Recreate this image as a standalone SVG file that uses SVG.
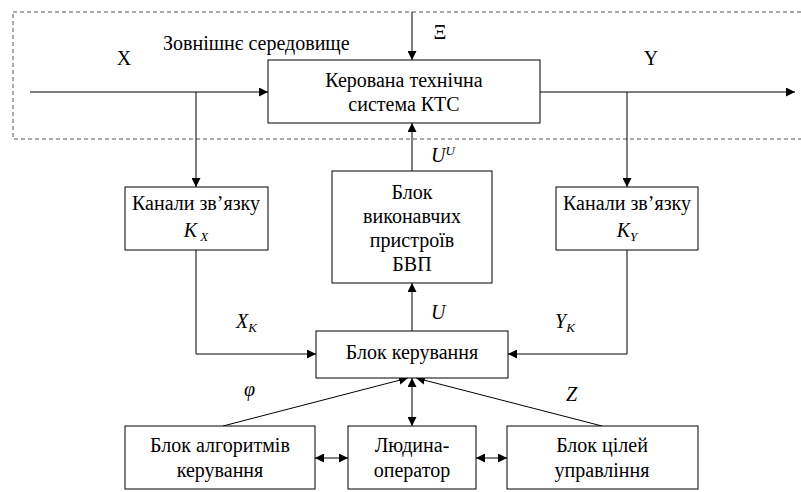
<svg xmlns="http://www.w3.org/2000/svg" width="801" height="492" viewBox="0 0 801 492">
<style>
text{font-family:"Liberation Serif","Times New Roman",serif;font-size:20px;fill:#000}
.c{text-anchor:middle}
.i{font-style:italic}
.s{font-size:13px}
.box{fill:#fff;stroke:#000;stroke-width:1}
.ln{fill:none;stroke:#000;stroke-width:1}
</style>
<defs>
<marker id="a" viewBox="0 0 10 10" refX="10" refY="5" markerWidth="9" markerHeight="9" markerUnits="userSpaceOnUse" orient="auto-start-reverse"><path d="M0,0 L10,5 L0,10 Z" fill="#000"/></marker>
</defs>
<rect x="13" y="12" width="800" height="127" fill="none" stroke="#555" stroke-dasharray="4,3"/>
<text x="163" y="50">Зовнішнє середовище</text>
<g id="connectors">
<line class="ln" x1="30" y1="92" x2="268" y2="92" marker-end="url(#a)"/>
<line class="ln" x1="196" y1="92" x2="196" y2="187" marker-end="url(#a)"/>
<line class="ln" x1="412" y1="12" x2="412" y2="60" marker-end="url(#a)"/>
<line class="ln" x1="540" y1="92" x2="795" y2="92" marker-end="url(#a)"/>
<line class="ln" x1="627" y1="92" x2="627" y2="187" marker-end="url(#a)"/>
<line class="ln" x1="412" y1="171" x2="412" y2="123" marker-end="url(#a)"/>
<polyline class="ln" points="196,250 196,354 316,354" marker-end="url(#a)"/>
<polyline class="ln" points="627,250 627,354 508,354" marker-end="url(#a)"/>
<line class="ln" x1="412" y1="331" x2="412" y2="283" marker-end="url(#a)"/>
<line class="ln" x1="412" y1="378" x2="412" y2="426" marker-start="url(#a)" marker-end="url(#a)"/>
<line class="ln" x1="223" y1="426" x2="408" y2="378" marker-end="url(#a)"/>
<line class="ln" x1="602" y1="426" x2="416" y2="378" marker-end="url(#a)"/>
<line class="ln" x1="315" y1="458" x2="348" y2="458" marker-start="url(#a)" marker-end="url(#a)"/>
<line class="ln" x1="476" y1="458" x2="507" y2="458" marker-start="url(#a)" marker-end="url(#a)"/>
</g>
<g id="labels">
<text x="124" y="65" class="c">X</text>
<text x="440" y="39" class="c">Ξ</text>
<text x="651" y="65" class="c">Y</text>
<text x="431" y="162" class="i">U<tspan class="s" dy="-7">U</tspan></text>
<text x="236" y="328" class="i">X<tspan class="s" dy="4">K</tspan></text>
<text x="431" y="319" class="i">U</text>
<text x="555" y="328" class="i">Y<tspan class="s" dy="4">K</tspan></text>
<text x="244" y="396" class="i">φ</text>
<text x="566" y="401" class="i">Z</text>
</g>
<g id="kts">
<rect class="box" x="268" y="60" width="272" height="63"/>
<text x="404" y="87" class="c">Керована технічна</text>
<text x="404" y="111" class="c">система  КТС</text>
</g>
<g id="kx">
<rect class="box" x="125" y="187" width="143" height="63"/>
<text x="196" y="210" class="c">Канали зв’язку</text>
<text x="196" y="237" class="c"><tspan class="i">K</tspan><tspan class="i s" dy="4"> X</tspan></text>
</g>
<g id="bvp">
<rect class="box" x="332" y="171" width="160" height="112"/>
<text x="412" y="199" class="c">Блок</text>
<text x="412" y="223" class="c">виконавчих</text>
<text x="412" y="247" class="c">пристроїв</text>
<text x="412" y="271" class="c">БВП</text>
</g>
<g id="ky">
<rect class="box" x="556" y="187" width="142" height="63"/>
<text x="627" y="210" class="c">Канали зв’язку</text>
<text x="627" y="237" class="c"><tspan class="i">K</tspan><tspan class="i s" dy="4">Y</tspan></text>
</g>
<g id="bk">
<rect class="box" x="316" y="331" width="192" height="47"/>
<text x="412" y="359" class="c">Блок керування</text>
</g>
<g id="ba">
<rect class="box" x="125" y="426" width="190" height="63"/>
<text x="220" y="452" class="c">Блок алгоритмів</text>
<text x="220" y="477" class="c">керування</text>
</g>
<g id="lo">
<rect class="box" x="348" y="426" width="128" height="63"/>
<text x="412" y="452" class="c">Людина-</text>
<text x="412" y="477" class="c">оператор</text>
</g>
<g id="bc">
<rect class="box" x="507" y="426" width="191" height="63"/>
<text x="602" y="452" class="c">Блок цілей</text>
<text x="602" y="477" class="c">управління</text>
</g>
</svg>
